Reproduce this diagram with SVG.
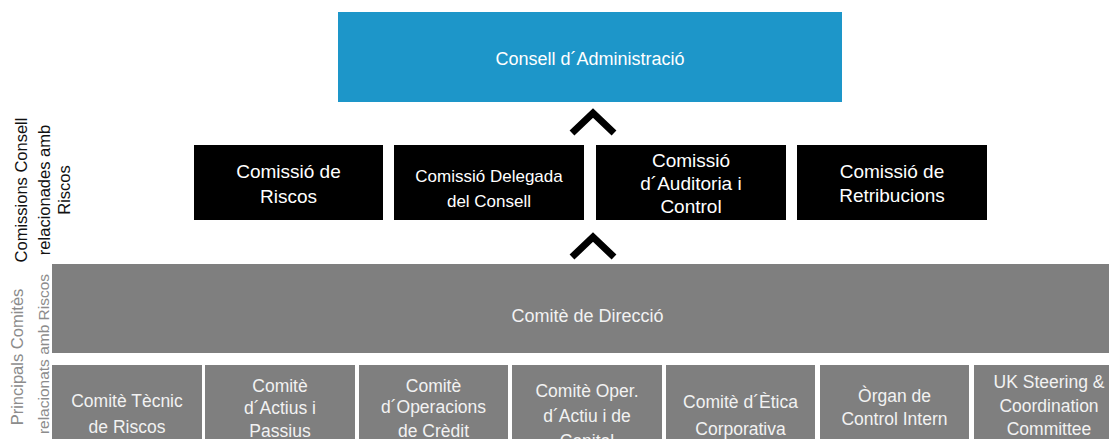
<svg xmlns="http://www.w3.org/2000/svg" width="1109" height="439" viewBox="0 0 1109 439">
<style>
text{font-family:"Liberation Sans",Arial,sans-serif;text-anchor:middle}
.blue{fill:#1d96c9}
.blk{fill:#000}
.gry{fill:#7f7f7f}
.wt{fill:#ffffff;font-size:18px}
.bt{fill:#ffffff;font-size:19px}
.gt{fill:#f2f2f2;font-size:17.5px}
.side{fill:#111;font-size:16.5px}
.side2{fill:#8c8c8c;font-size:15.5px}
.chev{fill:none;stroke:#000;stroke-width:7;stroke-linejoin:miter}
</style>
<rect width="1109" height="439" fill="#fff"/>
<g id="labels">
<text class="side" transform="translate(27,190) rotate(-90)">Comissions Consell</text>
<text class="side" transform="translate(50,190) rotate(-90)">relacionades amb</text>
<text class="side" transform="translate(70,190) rotate(-90)">Riscos</text>
<text class="side2" transform="translate(23,357) rotate(-90)" style="font-size:16.5px">Principals Comitès</text>
<text class="side2" transform="translate(49,354) rotate(-90)">relacionats amb Riscos</text>
</g>
<g id="consell">
<rect class="blue" x="338" y="12" width="504" height="90"/>
<text class="wt" x="590" y="65">Consell d´Administració</text>
</g>
<g id="c-riscos">
<rect class="blk" x="194" y="145" width="189" height="75"/>
<text class="bt" x="288.5" y="178">Comissió de</text>
<text class="bt" x="288.5" y="203">Riscos</text>
</g>
<g id="c-delegada">
<rect class="blk" x="394" y="145" width="190" height="75"/>
<text class="bt" x="489" y="182" style="font-size:17px">Comissió Delegada</text>
<text class="bt" x="489" y="207" style="font-size:17px">del Consell</text>
</g>
<g id="c-auditoria">
<rect class="blk" x="596" y="145" width="190" height="75"/>
<text class="bt" x="691" y="167">Comissió</text>
<text class="bt" x="691" y="190">d´Auditoria i</text>
<text class="bt" x="691" y="213">Control</text>
</g>
<g id="c-retribucions">
<rect class="blk" x="797" y="145" width="190" height="75"/>
<text class="bt" x="892" y="178">Comissió de</text>
<text class="bt" x="892" y="202">Retribucions</text>
</g>
<g id="direccio">
<rect class="gry" x="52" y="264" width="1057" height="89"/>
<text class="wt" x="587.5" y="322" style="fill:#f2f2f2">Comitè de Direcció</text>
</g>
<g id="tecnic">
<rect class="gry" x="52" y="365" width="150" height="80"/>
<text class="gt" x="127" y="407">Comitè Tècnic</text>
<text class="gt" x="127" y="433">de Riscos</text>
</g>
<g id="actius">
<rect class="gry" x="205" y="365" width="150" height="80"/>
<text class="gt" x="280" y="392">Comitè</text>
<text class="gt" x="280" y="414">d´Actius i</text>
<text class="gt" x="280" y="437">Passius</text>
</g>
<g id="operacions">
<rect class="gry" x="359" y="365" width="149" height="80"/>
<text class="gt" x="433.5" y="392">Comitè</text>
<text class="gt" x="433.5" y="413">d´Operacions</text>
<text class="gt" x="433.5" y="437">de Crèdit</text>
</g>
<g id="oper">
<rect class="gry" x="512" y="365" width="150" height="80"/>
<text class="gt" x="587" y="397">Comitè Oper.</text>
<text class="gt" x="587" y="422">d´Actiu i de</text>
<text class="gt" x="587" y="447">Capital</text>
</g>
<g id="etica">
<rect class="gry" x="666" y="365" width="149" height="80"/>
<text class="gt" x="740.5" y="408">Comitè d´Ètica</text>
<text class="gt" x="740.5" y="435">Corporativa</text>
</g>
<g id="organ">
<rect class="gry" x="820" y="365" width="149" height="80"/>
<text class="gt" x="894.5" y="402">Òrgan de</text>
<text class="gt" x="894.5" y="425">Control Intern</text>
</g>
<g id="uk">
<rect class="gry" x="974" y="365" width="150" height="80"/>
<text class="gt" x="1049" y="388">UK Steering &amp;</text>
<text class="gt" x="1049" y="412">Coordination</text>
<text class="gt" x="1049" y="435">Committee</text>
</g>
<g id="connectors">
<polyline class="chev" points="572,133 593,113 614,133"/>
<polyline class="chev" points="572,257 593,237 614,257"/>
</g>
</svg>
